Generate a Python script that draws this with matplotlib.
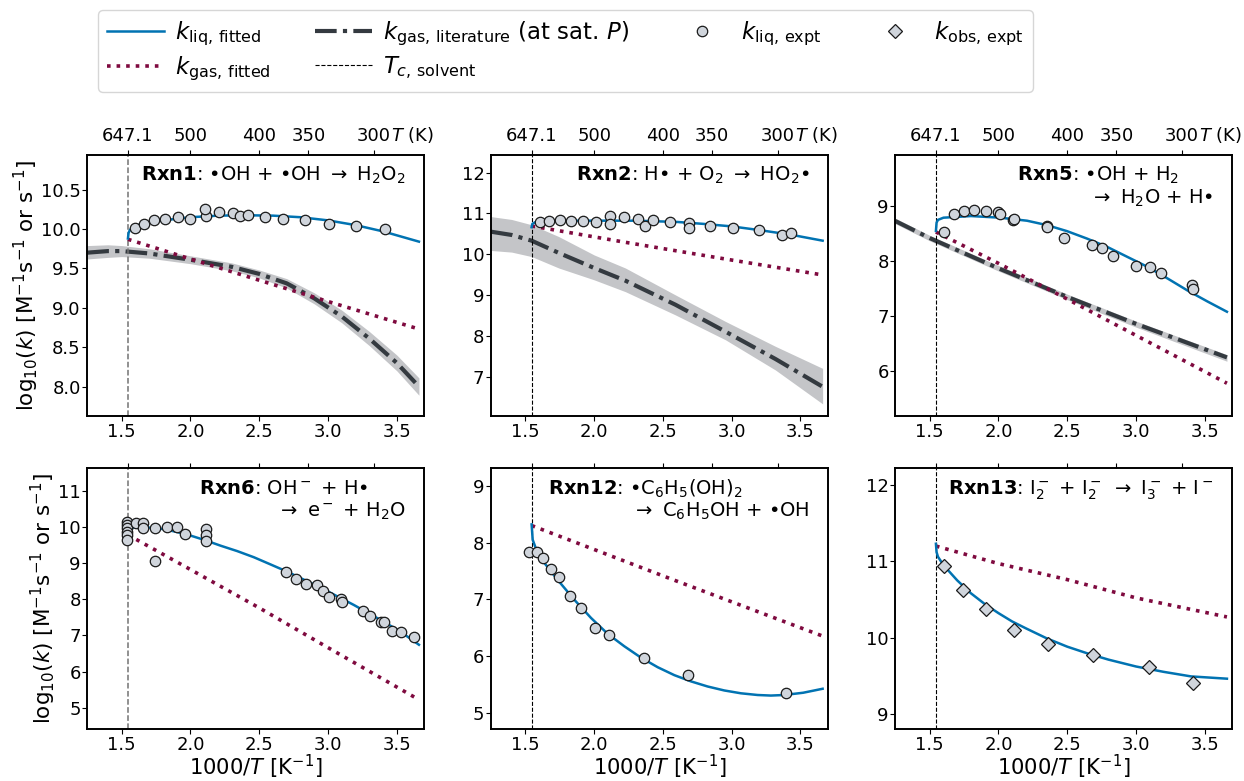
import numpy as np
import matplotlib
matplotlib.use('Agg')
import matplotlib.pyplot as plt
from matplotlib.lines import Line2D
from matplotlib.transforms import blended_transform_factory

plt.rcParams['font.family'] = ['DejaVu Sans']
plt.rcParams['mathtext.fontset'] = 'dejavusans'

# ---------------- data ----------------
T_C = 647.1
X_TC = 1000.0 / T_C
X_END = 1000.0 / 273.15
XLIM = (1.25, 3.70)

top_T = [647.1, 500, 400, 350, 300]
top_T_labels = ['647.1', '500', '400', '350', '300']
bottom_ticks = [1.5, 2.0, 2.5, 3.0, 3.5]

# Rxn1
r1_exp_x = [1.597, 1.663, 1.738, 1.818, 1.908, 2.000, 2.110, 2.107, 2.207, 2.311, 2.358, 2.416, 2.540, 2.676, 2.834, 3.009, 3.203, 3.412]
r1_exp_y = [10.01, 10.06, 10.11, 10.13, 10.15, 10.13, 10.16, 10.25, 10.22, 10.20, 10.16, 10.18, 10.15, 10.13, 10.11, 10.07, 10.04, 10.00]
r1_liq_x = [X_TC, 1.55, 1.56, 1.58, 1.62, 1.70, 1.80, 2.00, 2.20, 2.40, 2.60, 2.80, 3.00, 3.20, 3.40, X_END]
r1_liq_y = [9.88, 9.95, 9.99, 10.02, 10.05, 10.08, 10.11, 10.15, 10.17, 10.175, 10.17, 10.15, 10.11, 10.05, 9.97, 9.84]
r1_gas_x = [X_TC, 2.0, 2.5, 3.0, X_END]
r1_gas_y = [9.87, 9.62, 9.35, 9.08, 8.73]
r1_lit_x = [1.25, 1.40, 1.50, 1.70, 2.00, 2.30, 2.50, 2.70, 2.90, 3.10, 3.30, 3.50, X_END]
r1_lit_y = [9.70, 9.72, 9.72, 9.69, 9.61, 9.52, 9.43, 9.31, 9.12, 8.89, 8.61, 8.30, 8.00]
r1_lit_lo = [9.62, 9.64, 9.65, 9.63, 9.56, 9.47, 9.38, 9.25, 9.05, 8.81, 8.52, 8.20, 7.89]
r1_lit_hi = [9.79, 9.80, 9.79, 9.75, 9.66, 9.57, 9.48, 9.37, 9.19, 8.97, 8.70, 8.40, 8.11]

# Rxn2
r2_exp_x = [1.609, 1.675, 1.750, 1.830, 1.917, 2.012, 2.118, 2.118, 2.220, 2.317, 2.368, 2.427, 2.550, 2.693, 2.693, 2.845, 3.008, 3.202, 3.362, 3.430]
r2_exp_y = [10.78, 10.82, 10.84, 10.82, 10.82, 10.78, 10.94, 10.74, 10.91, 10.87, 10.70, 10.84, 10.80, 10.76, 10.65, 10.70, 10.65, 10.60, 10.46, 10.53]
r2_liq_x = [X_TC, 1.55, 1.57, 1.60, 1.80, 2.00, 2.30, 2.60, 2.80, 3.00, 3.20, 3.44, X_END]
r2_liq_y = [10.66, 10.74, 10.78, 10.80, 10.82, 10.82, 10.82, 10.79, 10.74, 10.68, 10.59, 10.47, 10.33]
r2_gas_x = [X_TC, 2.227, 2.955, X_END]
r2_gas_y = [10.69, 10.29, 9.88, 9.49]
r2_lit_x = [1.25, 1.40, X_TC, 1.743, 2.00, 2.227, 2.591, 2.955, 3.318, X_END]
r2_lit_y = [10.55, 10.47, 10.33, 10.03, 9.66, 9.35, 8.76, 8.10, 7.43, 6.75]
r2_lit_lo = [10.09, 10.05, 9.94, 9.66, 9.37, 9.08, 8.51, 7.90, 7.16, 6.33]
r2_lit_hi = [10.92, 10.85, 10.72, 10.43, 9.98, 9.66, 9.00, 8.35, 7.74, 7.20]

# Rxn5
r5_exp_x = [1.607, 1.675, 1.747, 1.825, 1.910, 1.995, 2.014, 2.104, 2.111, 2.351, 2.356, 2.479, 2.681, 2.753, 2.831, 3.001, 3.105, 3.182, 3.408, 3.413]
r5_exp_y = [8.53, 8.85, 8.91, 8.93, 8.92, 8.89, 8.86, 8.75, 8.77, 8.64, 8.62, 8.42, 8.29, 8.24, 8.09, 7.92, 7.90, 7.78, 7.56, 7.50]
r5_liq_x = [X_TC, 1.55, 1.56, 1.60, 1.80, 2.014, 2.208, 2.353, 2.499, 2.644, 2.790, 2.935, 3.081, 3.226, 3.372, 3.517, X_END]
r5_liq_y = [8.55, 8.70, 8.75, 8.79, 8.82, 8.79, 8.735, 8.655, 8.545, 8.41, 8.26, 8.08, 7.90, 7.69, 7.47, 7.27, 7.08]
r5_gas_x = [X_TC, 2.0, 2.5, 3.0, X_END]
r5_gas_y = [8.53, 7.96, 7.31, 6.65, 5.78]
r5_lit_x = [1.25, 1.50, 2.00, 2.50, 3.00, X_END]
r5_lit_y = [8.73, 8.42, 7.87, 7.35, 6.86, 6.25]
r5_lit_lo = [8.68, 8.37, 7.82, 7.30, 6.80, 6.18]
r5_lit_hi = [8.78, 8.47, 7.92, 7.40, 6.91, 6.30]

# Rxn6
r6_exp_x = [1.536, 1.536, 1.536, 1.536, 1.536, 1.536, 1.601, 1.657, 1.657, 1.742, 1.742, 1.832, 1.904, 1.960, 2.110, 2.110, 2.110,
            2.692, 2.764, 2.842, 2.917, 2.965, 3.007, 3.096, 3.099, 3.256, 3.305, 3.382, 3.406, 3.467, 3.528, 3.625]
r6_exp_y = [10.14, 10.05, 9.96, 9.86, 9.77, 9.63, 10.12, 10.10, 9.96, 9.96, 9.07, 9.99, 10.01, 9.80, 9.94, 9.78, 9.61,
            8.74, 8.56, 8.43, 8.40, 8.24, 8.05, 8.00, 7.92, 7.66, 7.54, 7.36, 7.38, 7.11, 7.09, 6.95]
r6_liq_x = [X_TC, 1.55, 1.56, 1.60, 1.70, 1.80, 1.90, 2.00, 2.10, 2.219, 2.340, 2.461, 2.583, 2.704, 2.825, 2.946, 3.067, 3.188, 3.310, 3.431, 3.55, X_END]
r6_liq_y = [9.78, 9.90, 9.96, 9.99, 9.98, 9.94, 9.86, 9.76, 9.64, 9.48, 9.33, 9.16, 8.96, 8.76, 8.54, 8.32, 8.08, 7.84, 7.58, 7.32, 7.04, 6.74]
r6_gas_x = [X_TC, 2.0, 2.5, 3.0, X_END]
r6_gas_y = [9.78, 8.82, 7.76, 6.66, 5.22]

# Rxn12
r12_exp_x = [1.524, 1.582, 1.630, 1.684, 1.742, 1.822, 1.907, 2.006, 2.108, 2.360, 2.680, 3.397]
r12_exp_y = [7.83, 7.84, 7.72, 7.54, 7.40, 7.05, 6.85, 6.50, 6.36, 5.96, 5.66, 5.34]
r12_liq_x = [X_TC, 1.553, 1.589, 1.638, 1.735, 1.856, 1.977, 2.098, 2.219, 2.340, 2.462, 2.583, 2.704, 2.825, 2.946, 3.067, 3.188, 3.285, 3.382, 3.52, X_END]
r12_liq_y = [8.32, 8.05, 7.81, 7.64, 7.34, 6.99, 6.67, 6.39, 6.17, 5.97, 5.80, 5.66, 5.55, 5.46, 5.39, 5.34, 5.31, 5.30, 5.31, 5.35, 5.42]
r12_gas_x = [X_TC, 2.578, X_END]
r12_gas_y = [8.30, 7.34, 6.35]

# Rxn13
r13_exp_x = [1.604, 1.745, 1.910, 2.111, 2.361, 2.685, 3.098, 3.413]
r13_exp_y = [10.94, 10.63, 10.37, 10.10, 9.92, 9.77, 9.61, 9.40]
r13_liq_x = [X_TC, 1.55, 1.56, 1.60, 1.70, 1.80, 1.90, 2.00, 2.10, 2.20, 2.35, 2.50, 2.65, 2.80, 3.00, 3.20, 3.40, X_END]
r13_liq_y = [11.23, 11.12, 11.06, 10.95, 10.75, 10.58, 10.44, 10.32, 10.21, 10.12, 9.99, 9.88, 9.79, 9.71, 9.62, 9.55, 9.49, 9.46]
r13_gas_x = [X_TC, 2.0, 2.5, 3.0, X_END]
r13_gas_y = [11.20, 10.97, 10.76, 10.52, 10.27]

# ---------------- style ----------------
C_LIQ = '#0173b2'
C_GAS = '#7f0a3f'
C_LIT = '#343a40'
C_BAND = '#c4c5c8'
C_MARK = '#d0d5dc'
C_EDGE = '#1a1a1a'

W, H = 1244, 781
fig = plt.figure(figsize=(W / 100, H / 100), dpi=100)

col_left = [87.3, 491.0, 895.3]
ax_w = 337.0
row_top = [155.0, 468.3]
ax_h = [260.7, 260.7]


def make_ax(r, c):
    l = col_left[c] / W
    b = 1 - (row_top[r] + ax_h[r]) / H
    return fig.add_axes([l, b, ax_w / W, ax_h[r] / H])


panels = [
    dict(r=0, c=0, ylim=(7.63, 10.94), yticks=[8.0, 8.5, 9.0, 9.5, 10.0, 10.5], yfmt='{:.1f}',
         ex=r1_exp_x, ey=r1_exp_y, marker='o', lx=r1_liq_x, ly=r1_liq_y, gx=r1_gas_x, gy=r1_gas_y,
         litx=r1_lit_x, lity=r1_lit_y, litlo=r1_lit_lo, lithi=r1_lit_hi,
         text=[(0.945, 0.90, 'right', r'$\mathbf{Rxn1}$: •OH + •OH $\rightarrow$ H$_2$O$_2$')]),
    dict(r=0, c=1, ylim=(6.04, 12.43), yticks=[7, 8, 9, 10, 11, 12], yfmt='{:.0f}',
         ex=r2_exp_x, ey=r2_exp_y, marker='o', lx=r2_liq_x, ly=r2_liq_y, gx=r2_gas_x, gy=r2_gas_y,
         litx=r2_lit_x, lity=r2_lit_y, litlo=r2_lit_lo, lithi=r2_lit_hi,
         text=[(0.945, 0.90, 'right', r'$\mathbf{Rxn2}$: H• + O$_2$ $\rightarrow$ HO$_2$•')]),
    dict(r=0, c=2, ylim=(5.19, 9.93), yticks=[6, 7, 8, 9], yfmt='{:.0f}',
         ex=r5_exp_x, ey=r5_exp_y, marker='o', lx=r5_liq_x, ly=r5_liq_y, gx=r5_gas_x, gy=r5_gas_y,
         litx=r5_lit_x, lity=r5_lit_y, litlo=r5_lit_lo, lithi=r5_lit_hi,
         text=[(0.360, 0.90, 'left', r'$\mathbf{Rxn5}$: •OH + H$_2$'),
               (0.945, 0.814, 'right', r'$\rightarrow$ H$_2$O + H•')]),
    dict(r=1, c=0, ylim=(4.41, 11.62), yticks=[5, 6, 7, 8, 9, 10, 11], yfmt='{:.0f}',
         ex=r6_exp_x, ey=r6_exp_y, marker='o', lx=r6_liq_x, ly=r6_liq_y, gx=r6_gas_x, gy=r6_gas_y,
         litx=None,
         text=[(0.332, 0.90, 'left', r'$\mathbf{Rxn6}$: OH$^-$ + H•'),
               (0.945, 0.814, 'right', r'$\rightarrow$ e$^-$ + H$_2$O')]),
    dict(r=1, c=1, ylim=(4.71, 9.31), yticks=[5, 6, 7, 8, 9], yfmt='{:.0f}',
         ex=r12_exp_x, ey=r12_exp_y, marker='o', lx=r12_liq_x, ly=r12_liq_y, gx=r12_gas_x, gy=r12_gas_y,
         litx=None,
         text=[(0.170, 0.90, 'left', r'$\mathbf{Rxn12}$: •C$_6$H$_5$(OH)$_2$'),
               (0.945, 0.814, 'right', r'$\rightarrow$ C$_6$H$_5$OH + •OH')]),
    dict(r=1, c=2, ylim=(8.80, 12.22), yticks=[9, 10, 11, 12], yfmt='{:.0f}',
         ex=r13_exp_x, ey=r13_exp_y, marker='D', lx=r13_liq_x, ly=r13_liq_y, gx=r13_gas_x, gy=r13_gas_y,
         litx=None,
         text=[(0.945, 0.90, 'right', r'$\mathbf{Rxn13}$: I$_2^-$ + I$_2^-$ $\rightarrow$ I$_3^-$ + I$^-$')]),
]

TICK_FS = 13
LABEL_FS = 15.2
TEXT_FS = 14
LIT_DASH = (5.2, 1.5, 1.0, 1.5)
MS_O = 7.5
MS_D = 7.6

for p in panels:
    ax = make_ax(p['r'], p['c'])
    if p['litx'] is not None:
        ax.fill_between(p['litx'], p['litlo'], p['lithi'], color=C_BAND, lw=0, zorder=1)
        ax.plot(p['litx'], p['lity'], color=C_LIT, lw=3.0, dashes=LIT_DASH, zorder=2)
    ax.plot(p['gx'], p['gy'], color=C_GAS, lw=2.6, ls=':', zorder=3)
    ax.plot(p['lx'], p['ly'], color=C_LIQ, lw=1.8, zorder=4)
    ms = MS_O if p['marker'] == 'o' else MS_D
    ax.plot(p['ex'], p['ey'], ls='none', marker=p['marker'], ms=ms, mfc=C_MARK, mec=C_EDGE, mew=0.9, zorder=5)
    vcol = '0.45' if p['c'] == 0 else 'k'
    vlw = 1.1 if p['c'] == 0 else 0.8
    ax.axvline(X_TC, color=vcol, lw=vlw, ls='--', zorder=2)

    ax.set_xlim(*XLIM)
    ax.set_ylim(*p['ylim'])
    ax.set_xticks(bottom_ticks)
    ax.set_xticklabels(['{:.1f}'.format(v) for v in bottom_ticks])
    ax.set_yticks(p['yticks'])
    ax.set_yticklabels([p['yfmt'].format(v) for v in p['yticks']])
    ax.tick_params(labelsize=TICK_FS)
    ax.tick_params(axis='x', pad=1.6)
    ax.tick_params(axis='y', pad=1.2)
    for s in ax.spines.values():
        s.set_linewidth(1.2)

    ax2 = ax.twiny()
    ax2.set_xlim(*XLIM)
    ax2.set_xticks([1000.0 / t for t in top_T])
    if p['r'] == 0:
        ax2.set_xticklabels(top_T_labels)
        trans = blended_transform_factory(ax.transData, ax.transAxes)
        ax.text(3.46, 1.0 + 9.7 / 260.7, r'$T$ (K)', transform=trans, ha='left', va='bottom', fontsize=TICK_FS)
    else:
        ax2.set_xticklabels([])
    ax2.tick_params(labelsize=TICK_FS)
    for s in ax2.spines.values():
        s.set_linewidth(1.2)

    if p['c'] == 0:
        ax.set_ylabel(r'log$_{10}$($k$) [M$^{-1}$s$^{-1}$ or s$^{-1}$]', fontsize=15.5, labelpad=0)
    if p['r'] == 1:
        ax.set_xlabel(r'1000/$T$ [K$^{-1}$]', fontsize=LABEL_FS, labelpad=-1)

    for (tx, ty, ha, s) in p['text']:
        ax.text(tx, ty, s, transform=ax.transAxes, ha=ha, va='baseline', fontsize=TEXT_FS, zorder=6)

# ---------------- legend ----------------
handles = [
    Line2D([], [], color=C_LIQ, lw=1.8),
    Line2D([], [], color=C_GAS, lw=2.6, ls=':'),
    Line2D([], [], color=C_LIT, lw=3.0, dashes=LIT_DASH),
    Line2D([], [], color='k', lw=0.8, ls='--'),
    Line2D([], [], ls='none', marker='o', ms=MS_O, mfc=C_MARK, mec=C_EDGE, mew=0.9),
    Line2D([], [], ls='none', marker='D', ms=MS_D, mfc=C_MARK, mec=C_EDGE, mew=0.9),
]
labels = [
    r'$k_\mathrm{liq,\,fitted}$',
    r'$k_\mathrm{gas,\,fitted}$',
    r'$k_\mathrm{gas,\,literature}$ (at sat. $P$)',
    r'$T_{c,\,\mathrm{solvent}}$',
    r'$k_\mathrm{liq,\,expt}$',
    r'$k_\mathrm{obs,\,expt}$',
]
fig.legend(handles, labels, loc='upper left', bbox_to_anchor=(98 / W, 1 - 10 / H), ncol=4,
           fontsize=16.5, handlelength=2.5, handletextpad=0.45, labelspacing=0.3,
           columnspacing=1.95, borderaxespad=0.0, frameon=True)

fig.savefig('out.png', dpi=100)
